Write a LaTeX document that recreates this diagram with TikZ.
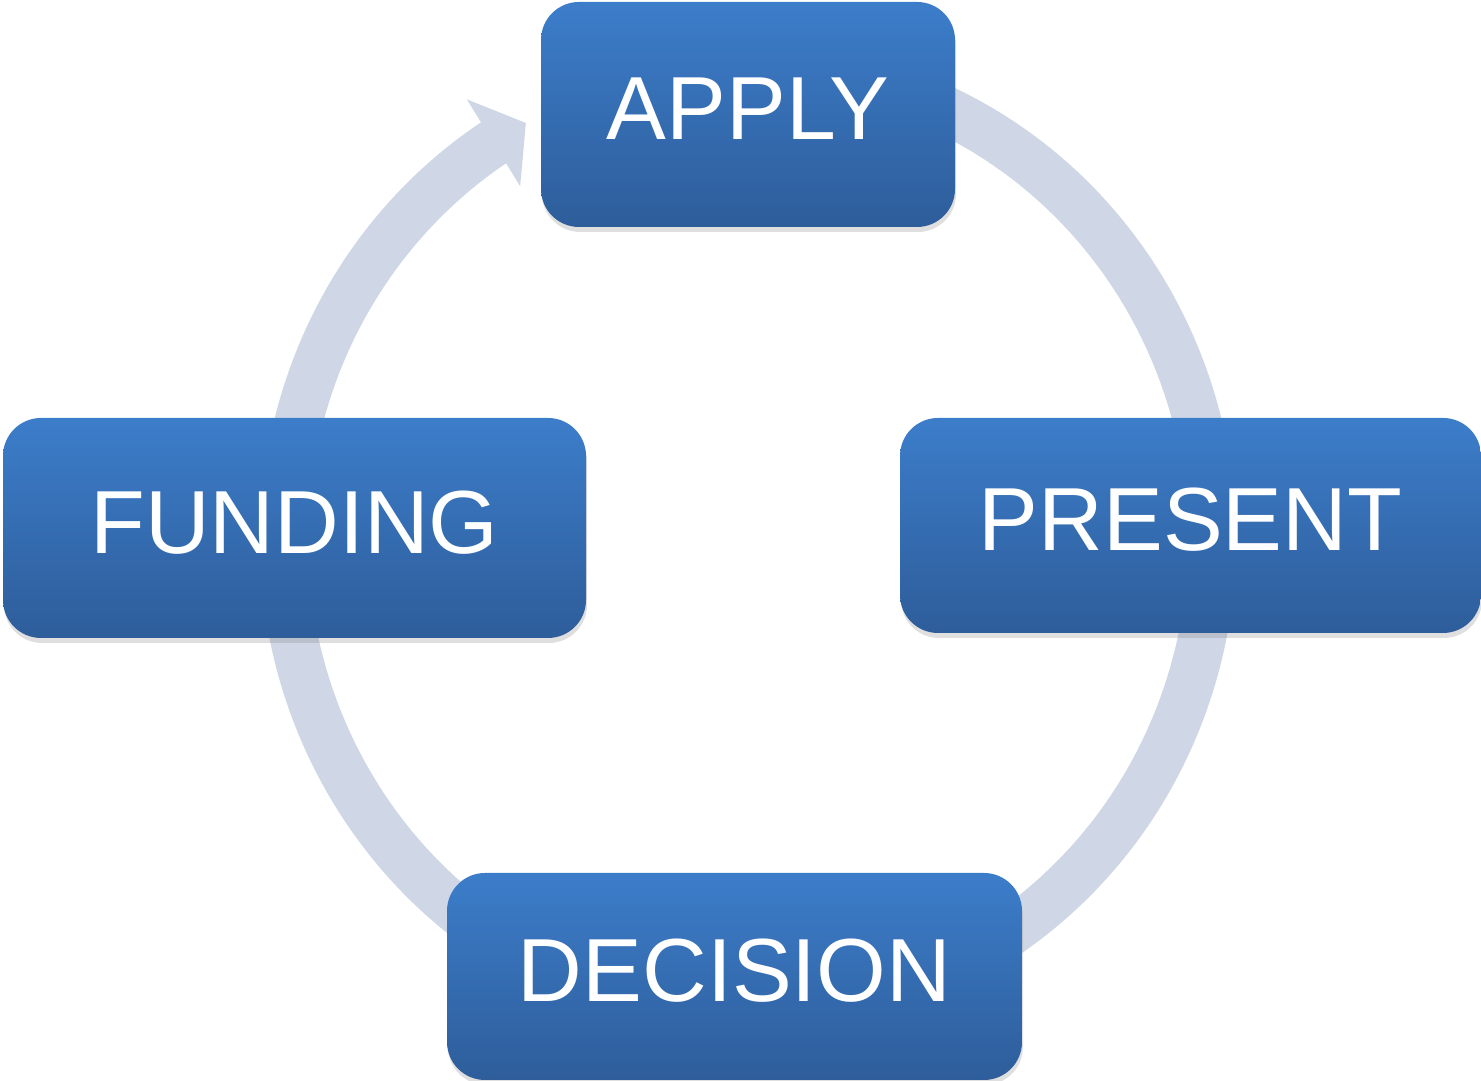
\documentclass[tikz,border=0pt]{standalone}
\usepackage{fontspec}
\setmainfont{Liberation Sans}
\usetikzlibrary{arrows.meta,bending,shadows}
\definecolor{ringgray}{HTML}{CFD7E6}
\definecolor{boxtop}{HTML}{3C7DCA}
\definecolor{boxbot}{HTML}{2E5D9A}

\begin{document}
\begin{tikzpicture}[box node/.style={rectangle,rounded corners=0.38cm,top color=boxtop,bottom color=boxbot,text=white,font=\fontsize{25.5}{30}\selectfont,inner sep=0pt,text depth=0.12cm,drop shadow={shadow xshift=0.01cm,shadow yshift=-0.05cm,opacity=0.25}},ring/.style={ringgray,line width=0.48cm}]

		\useasboundingbox (0,0) rectangle (14.81,10.81);
		\coordinate (c) at (7.48,5.41);

		% cycle ring behind the boxes
		\draw[ring,-{Triangle[width=1cm,length=0.38cm,flex]}] ([shift={(70:4.64 and 4.75)}]c) arc[start angle=70,end angle=-241.4,x radius=4.64,y radius=4.75];

		\node[box node,minimum width=4.14cm,minimum height=2.25cm] (1) at (7.48,9.665) {APPLY};
		\node[box node,minimum width=5.81cm,minimum height=2.15cm] (2) at (11.905,5.555) {PRESENT};
		\node[box node,minimum width=5.75cm,minimum height=2.07cm] (3) at (7.345,1.045) {DECISION};
		\node[box node,minimum width=5.83cm,minimum height=2.20cm] (4) at (2.945,5.53) {FUNDING};

		\end{tikzpicture}
\end{document}
